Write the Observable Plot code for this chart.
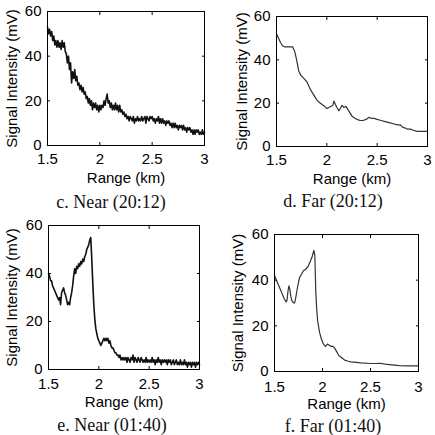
<!DOCTYPE html>
<html>
<head>
<meta charset="utf-8">
<script src="https://cdn.jsdelivr.net/npm/d3@7"></script>
<script src="https://cdn.jsdelivr.net/npm/@observablehq/plot@0.6"></script>
<style>
  html, body { margin: 0; padding: 0; background: white; }
  #root { position: relative; width: 435px; height: 435px; background: white; overflow: hidden; }
  .panel { position: absolute; }
  .cap { position: absolute; transform: translate(-50%, -50%); font-family: "Liberation Serif", "Times New Roman", serif; font-size: 18px; color: #111; white-space: nowrap; }
</style>
</head>
<body>
<div id="root"></div>
<script>
// ---- data ----
const xTicks = [1.5, 2, 2.5, 3];
const yTicks = [0, 20, 40, 60];
const xLabel = "Range (km)";
const yLabel = "Signal Intensity (mV)";
const captions = ["c. Near (20:12)", "d. Far (20:12)", "e. Near (01:40)", "f. Far (01:40)"];

// Near channel samples every 0.01 km from 1.50 to 3.00 km
const nearStart = 1.5, nearStep = 0.01;
const near2012 = [
  53,50,52,49,51,47,49,45,47,44,
  47,44,46,43,47,44,46,42,41,37,
  40,34,37,28,33,30,34,29,31,27,
  28,25,27,24,26,23,24,21,22,19,
  21,18,20,16,19,17,19,16,18,15,
  18,16,18,17,20,18,21,23,19,20,
  17,19,16,18,16,19,16,18,15,18,
  15,16,14,15,13,14,12,13,11,13,
  12,11,13,10,12,11,13,11,12,11,
  13,11,12,13,10,13,12,11,13,12,
  13,11,12,10,12,11,13,10,12,10,
  12,10,11,9,11,10,11,9,10,8,
  10,8,10,8,9,7,9,8,9,7,
  9,7,8,6,8,7,8,6,7,5,
  7,5,7,6,7,5,6,5,7,5,
  6
];
const near0140 = [
  40,39,37,37,35,34,33,32,31,30,
  29,30,27,32,33,34,32,31,29,27,
  28,27,30,32,35,39,42,40,43,42,
  44,43,45,44,46,45,47,48,50,51,
  52,54,55,46,36,27,21,17,15,13,
  12,11,10,11,12,13,12,13,12,13,
  11,12,10,9,9,8,7,7,6,6,
  5,6,4,5,4,5,4,5,3,5,
  4,3,5,4,6,3,5,4,3,5,
  4,3,5,4,3,4,3,5,3,4,
  3,4,3,5,3,4,2,4,3,5,
  3,4,2,4,3,4,3,4,2,4,
  3,4,2,3,4,2,3,4,2,3,
  2,4,2,3,2,4,2,3,1,3,
  2,3,1,3,2,3,1,3,2,3,
  2
];

// Far channel: smooth traces, [range km, mV]
const far2012 = [
  [1.50,52],[1.52,50],[1.54,48],[1.56,46.5],[1.58,46],[1.62,46],[1.66,46],[1.68,44],
  [1.70,40],[1.72,35],[1.74,33],[1.76,32],[1.78,31],[1.80,30],[1.82,28],[1.84,26],
  [1.86,24.5],[1.88,23],[1.90,21.5],[1.92,20.5],[1.95,19.5],[1.98,18.5],[2.00,17.5],
  [2.02,18],[2.04,18.5],[2.06,19],[2.07,21],[2.08,20],[2.10,18],[2.12,16.5],[2.14,18],
  [2.15,19],[2.17,18],[2.19,18.5],[2.21,17],[2.23,15.5],[2.25,14],[2.28,13],[2.30,12.5],
  [2.33,12],[2.36,12],[2.39,12.5],[2.42,13.5],[2.44,13],[2.47,13],[2.50,12.5],[2.54,12],
  [2.58,11.5],[2.62,11],[2.66,10.5],[2.70,10],[2.73,10],[2.75,9],[2.78,8.5],[2.80,8],
  [2.83,8],[2.86,7.5],[2.90,7],[2.95,7],[3.00,7]
];
const far0140 = [
  [1.50,42],[1.52,40],[1.54,38],[1.56,36],[1.58,34],[1.60,32],[1.62,30.5],[1.63,31],
  [1.64,35],[1.65,37.5],[1.66,36],[1.67,33],[1.68,31],[1.70,30],[1.71,30],[1.72,32],
  [1.74,37],[1.76,41],[1.78,42.5],[1.80,44],[1.83,45],[1.85,46],[1.87,48],[1.89,50],
  [1.91,53],[1.92,51],[1.93,35],[1.94,27],[1.95,22],[1.97,17],[1.99,14],[2.01,12],
  [2.03,11],[2.05,12],[2.07,11.5],[2.09,11],[2.11,11],[2.13,10],[2.15,8.5],[2.17,7],
  [2.20,6],[2.23,5],[2.27,4.5],[2.30,4.2],[2.35,4],[2.40,3.8],[2.50,3.5],[2.55,3.5],
  [2.60,3.6],[2.65,3.2],[2.70,3],[2.80,2.6],[2.90,2.5],[3.00,2.5]
];

// ---- build ----
const toPairs = (arr) => arr.map((v, i) => [nearStart + i * nearStep, v]);

const panels = [
  {data: toPairs(near2012), left: 0, top: 0, width: 215, height: 190,
   m: [11, 11, 45, 47], stroke: "#111", sw: 1.6, ylx: -35, xly: 33, tp: 8, ytp: 6,
   cap: [111, 202]},
  {data: far2012, left: 215, top: 0, width: 220, height: 190,
   m: [16, 8, 44, 61], stroke: "#333", sw: 1.2, ylx: -34, xly: 33, tp: 8, ytp: 6,
   cap: [333, 201]},
  {data: toPairs(near0140), left: 0, top: 215, width: 215, height: 200,
   m: [10, 16, 46, 48], stroke: "#111", sw: 1.6, ylx: -36, xly: 33, tp: 9, ytp: 6,
   cap: [112, 425]},
  {data: far0140, left: 215, top: 215, width: 220, height: 200,
   m: [19, 17, 44, 59], stroke: "#333", sw: 1.2, ylx: -36, xly: 33, tp: 10, ytp: 6,
   cap: [333, 426]}
];

const root = document.getElementById("root");
panels.forEach((p, i) => {
  const chart = Plot.plot({
    width: p.width,
    height: p.height,
    marginTop: p.m[0], marginRight: p.m[1], marginBottom: p.m[2], marginLeft: p.m[3],
    style: {fontFamily: "'Liberation Sans', Arial, sans-serif", fontSize: "15px", color: "black", background: "white", overflow: "visible"},
    x: {domain: [1.5, 3], axis: null},
    y: {domain: [0, 60], axis: null},
    marks: [
      Plot.line(p.data, {x: d => d[0], y: d => d[1], stroke: p.stroke, strokeWidth: p.sw, strokeLinejoin: "round"}),
      Plot.frame({stroke: "black", strokeWidth: 1}),
      Plot.axisX(xTicks, {anchor: "bottom", tickSize: 0, tickPadding: p.tp, tickFormat: d => String(d), label: null, fontSize: 15}),
      Plot.axisX(xTicks, {anchor: "bottom", tickSize: -3, tickFormat: () => "", label: null}),
      Plot.axisX(xTicks, {anchor: "top", tickSize: -3, tickFormat: () => "", label: null}),
      Plot.axisY(yTicks, {anchor: "left", tickSize: 0, tickPadding: p.ytp, tickFormat: d => String(d), label: null, fontSize: 15}),
      Plot.axisY(yTicks, {anchor: "left", tickSize: -3, tickFormat: () => "", label: null}),
      Plot.axisY(yTicks, {anchor: "right", tickSize: -3, tickFormat: () => "", label: null}),
      Plot.text([xLabel], {text: d => d, frameAnchor: "bottom", dy: p.xly, textAnchor: "middle", lineAnchor: "middle", fontSize: 15, fill: "black"}),
      Plot.text([yLabel], {text: d => d, frameAnchor: "left", dx: p.ylx, rotate: -90, textAnchor: "middle", lineAnchor: "middle", fontSize: 15, fill: "black"})
    ]
  });
  chart.classList.add("panel");
  chart.style.left = p.left + "px";
  chart.style.top = p.top + "px";
  root.appendChild(chart);
  const cap = document.createElement("div");
  cap.className = "cap";
  cap.textContent = captions[i];
  cap.style.left = p.cap[0] + "px";
  cap.style.top = p.cap[1] + "px";
  root.appendChild(cap);
});
</script>
</body>
</html>
